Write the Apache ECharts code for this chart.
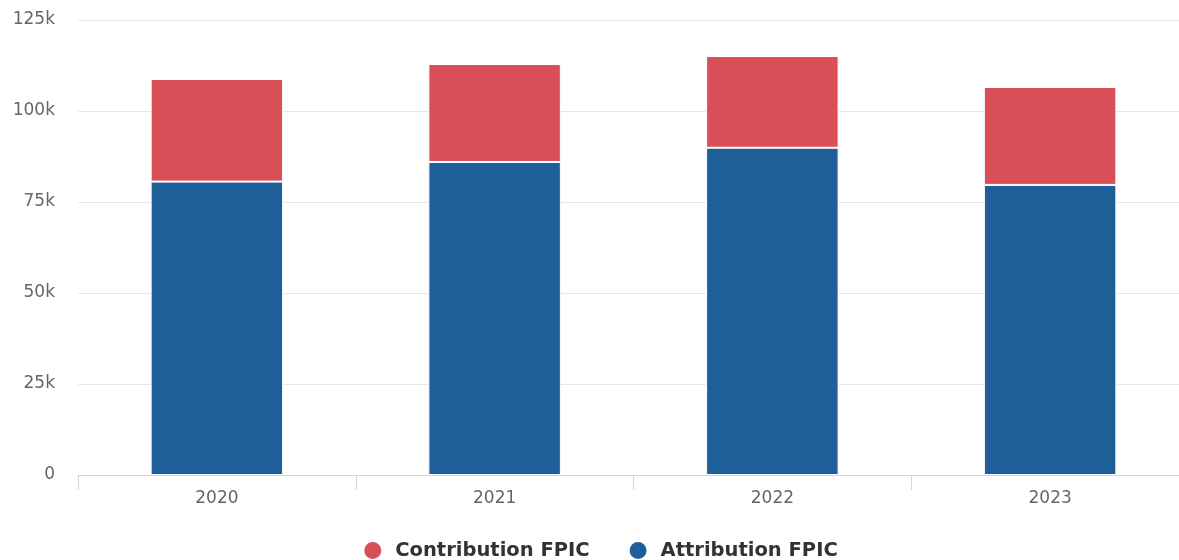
<!DOCTYPE html>
<html><head><meta charset="utf-8">
<script src="https://cdn.jsdelivr.net/npm/echarts@6/dist/echarts.min.js"></script>
<style>html,body{margin:0;padding:0;background:#fff;overflow:hidden}#c{width:1200px;height:560px}</style>
</head><body><div id="c"></div>
<script>
const categories = ['2020', '2021', '2022', '2023'];
const attribution = [80600, 86000, 89900, 79700];
const contribution = [28200, 26900, 25200, 26900];
const yTicks = [0, 25000, 50000, 75000, 100000, 125000];

const chart = echarts.init(document.getElementById('c'));
chart.setOption({
  animation: false,
  grid: { left: 78, right: 11, top: 20, bottom: 85 },
  legend: {
    top: 535, left: 'center', padding: 5,
    data: ['Contribution FPIC', 'Attribution FPIC'],
    icon: 'circle', itemWidth: 19, itemHeight: 19, itemGap: 38,
    textStyle: { fontFamily: 'DejaVu Sans', fontWeight: 'bold', fontSize: 19.5, color: '#333', padding: [0, 0, 0, 8] }
  },
  xAxis: {
    type: 'category', data: categories,
    axisLine: { lineStyle: { color: '#ccd6eb' } },
    axisTick: { show: true, length: 15, lineStyle: { color: '#ccd6eb' } },
    axisLabel: { color: '#666', fontFamily: 'DejaVu Sans', fontSize: 17, margin: 15 }
  },
  yAxis: {
    type: 'value', min: yTicks[0], max: yTicks[yTicks.length - 1], interval: 25000,
    axisLine: { show: false }, axisTick: { show: false },
    splitLine: { lineStyle: { color: '#e6e6e6' } },
    axisLabel: { color: '#666', fontFamily: 'DejaVu Sans', fontSize: 17, margin: 23,
      formatter: v => v === 0 ? '0' : (v / 1000) + 'k' }
  },
  series: [
    { name: 'Attribution FPIC', type: 'bar', stack: 't', data: attribution, barWidth: '47.7%',
      itemStyle: { color: '#1f5f99', borderColor: '#fff', borderWidth: 1 } },
    { name: 'Contribution FPIC', type: 'bar', stack: 't', data: contribution, barWidth: '47.7%',
      itemStyle: { color: '#d84f58', borderColor: '#fff', borderWidth: 1 } }
  ]
});
</script></body></html>
